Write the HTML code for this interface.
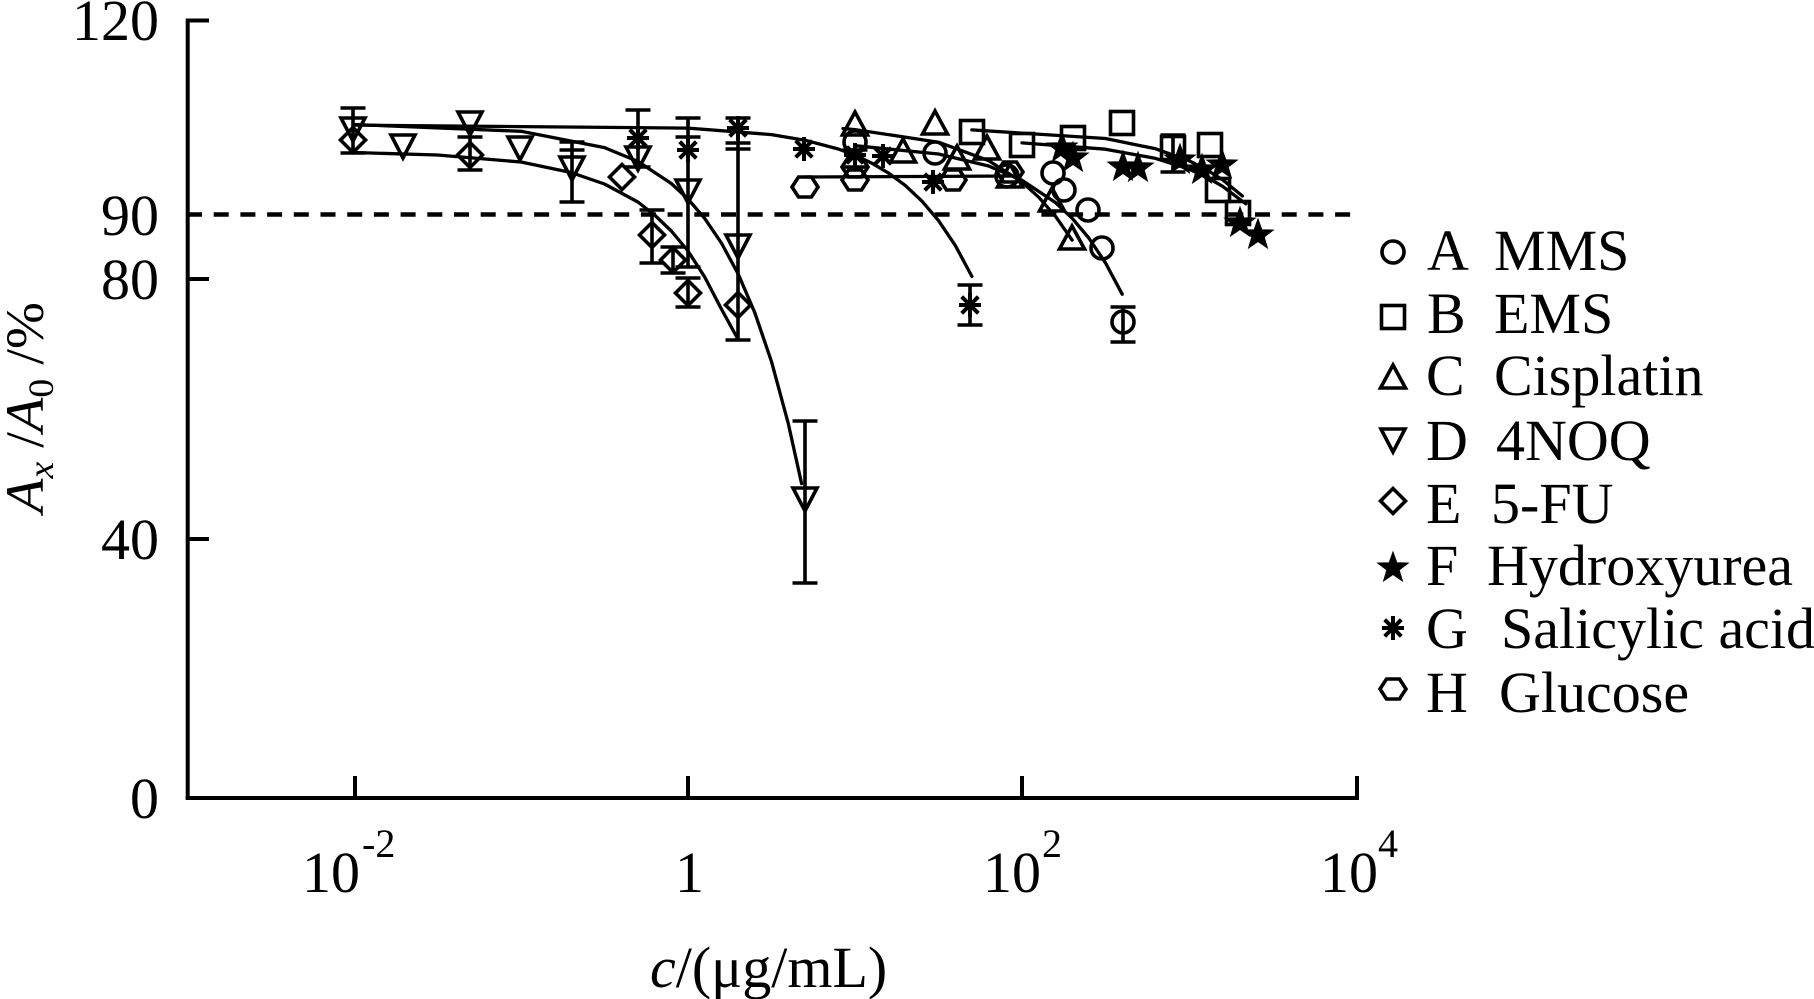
<!DOCTYPE html>
<html><head><meta charset="utf-8"><style>
html,body{margin:0;padding:0;background:#fff;}
svg{display:block;}
text{font-family:"Liberation Serif","Times New Roman",serif;fill:#000;}
</style></head><body>
<svg width="1814" height="999" viewBox="0 0 1814 999" xmlns="http://www.w3.org/2000/svg" font-family="Liberation Serif, Times New Roman, serif">
<defs>
<circle id="mc" cx="0" cy="0" r="11" fill="none" stroke="#000" stroke-width="3.6"/>
<rect id="ms" x="-11.5" y="-11.5" width="23" height="23" fill="none" stroke="#000" stroke-width="3.6"/>
<polygon id="mtu" points="0,-14 12.5,9 -12.5,9" fill="none" stroke="#000" stroke-width="3.6" stroke-linejoin="miter"/>
<polygon id="mtd" points="-12,-10 12,-10 0,13" fill="none" stroke="#000" stroke-width="3.6"/>
<polygon id="md" points="0,-12.5 12.5,0 0,12.5 -12.5,0" fill="none" stroke="#000" stroke-width="3.6"/>
<polygon id="mst" points="0,-16 3.82,-5.26 15.22,-4.94 6.18,2.01 9.4,12.94 0,6.5 -9.4,12.94 -6.18,2.01 -15.22,-4.94 -3.82,-5.26" fill="#000" stroke="#000" stroke-width="1"/>
<g id="ma" stroke="#000" stroke-width="4" stroke-linecap="butt">
<line x1="0" y1="-12" x2="0" y2="12"/><line x1="-11" y1="0" x2="11" y2="0"/>
<line x1="-8.3" y1="-8.3" x2="8.3" y2="8.3"/><line x1="-8.3" y1="8.3" x2="8.3" y2="-8.3"/>
</g>
<polygon id="mh" points="-13,0 -6.5,-10 6.5,-10 13,0 6.5,10 -6.5,10" fill="none" stroke="#000" stroke-width="3.6"/>
</defs>

<!-- axes -->
<g stroke="#000" stroke-width="4" fill="none">
<line x1="187.7" y1="18.5" x2="187.7" y2="800"/>
<line x1="185.7" y1="798" x2="1359" y2="798"/>
<line x1="187" y1="20.5" x2="209" y2="20.5"/>
<line x1="187" y1="279" x2="209" y2="279"/>
<line x1="187" y1="539" x2="209" y2="539"/>
<line x1="355" y1="798" x2="355" y2="776"/>
<line x1="688" y1="798" x2="688" y2="776"/>
<line x1="1022" y1="798" x2="1022" y2="776"/>
<line x1="1357" y1="798" x2="1357" y2="776"/>
</g>
<!-- dashed 90% line -->
<line x1="187" y1="214.5" x2="1352" y2="214.5" stroke="#000" stroke-width="4.5" stroke-dasharray="15 11.7"/>

<!-- y tick labels -->
<g font-size="58" text-anchor="end" font-family="Liberation Serif, serif">
<text x="159" y="40">120</text>
<text x="159" y="235">90</text>
<text x="159" y="299">80</text>
<text x="159" y="559">40</text>
<text x="159" y="818">0</text>
</g>
<!-- x tick labels -->
<g font-size="58" font-family="Liberation Serif, serif">
<text x="302" y="892">10</text>
<text x="675" y="892">1</text>
<text x="983" y="892">10</text>
<text x="1320" y="892">10</text>
</g>
<g font-size="40" font-family="Liberation Serif, serif">
<text x="362" y="857">-2</text>
<text x="1042" y="857">2</text>
<text x="1378" y="857">4</text>
</g>
<!-- x title -->
<text x="650" y="987" font-size="58" font-family="Liberation Serif, serif"><tspan font-style="italic">c</tspan>/(μg/mL)</text>
<!-- y title -->
<text transform="translate(43,513) rotate(-90)" font-size="54" font-family="Liberation Serif, serif" textLength="211" lengthAdjust="spacingAndGlyphs"><tspan font-style="italic">A</tspan><tspan font-style="italic" font-size="36" dy="10">x</tspan><tspan dy="-10"> /</tspan><tspan font-style="italic">A</tspan><tspan font-size="36" dy="10">0</tspan><tspan dy="-10"> /%</tspan></text>

<!-- fit curves -->
<g fill="none" stroke="#000" stroke-width="3.3" stroke-linejoin="round" stroke-linecap="round">
<!-- D 4NOQ -->
<polyline points="354,124.5 521,131.3 604.5,147.6 637.9,161.4 671.3,183.5 688,199 704.7,218.4 721.4,243 738.1,273.8 754.8,312.7 771.5,361.6 788.2,423.2 801.6,483.6"/>
<!-- E 5-FU -->
<polyline points="354,152.5 437.5,155 521,162 571,172.5 604.5,184 637.9,202 654.6,215 671.3,231 688,251 704.7,277 721.4,309 737.3,338"/>
<!-- G Salicylic -->
<polyline points="354,125.1 688,128.1 771.5,134.6 804.9,140.2 838.3,149 855,155.3 871.7,163.1 888.4,173 905.1,185.3 921.8,201 938.5,220.6 955.2,245.3 971.9,276.4"/>
<!-- A MMS -->
<polyline points="855,145.7 938.5,154 988.6,166 1022,180.2 1055.4,202.5 1072.1,218.2 1088.8,238 1105.5,262.9 1122.2,294.2"/>
<!-- C Cisplatin -->
<polyline points="843,128.5 855,129.6 938.5,142.2 988.6,160.6 1022,182.1 1038.7,197.2 1055.4,216.2 1072.1,240.1"/>
<!-- B EMS -->
<polyline points="971.9,129.9 1105.5,138.5 1155.6,148.8 1189,160.7 1205.7,169.2 1222.4,179.6 1242.4,196"/>
<!-- F Hydroxyurea -->
<polyline points="1022,142.9 1105.5,149.2 1155.6,158.4 1189,169.1 1205.7,176.7 1222.4,186.2 1245.8,203.8"/>
<!-- H Glucose -->
<polyline points="805,177 1015,176"/>
</g>

<!-- error bars -->
<g stroke="#000" stroke-width="3.6" fill="none">
<path d="M353,108V153 M340.5,108H365.5 M340.5,153H365.5"/>
<path d="M470,137V170 M457.5,137H482.5 M457.5,170H482.5"/>
<path d="M572,142V202 M559.5,142H584.5 M559.5,150H584.5 M559.5,202H584.5"/>
<path d="M638,110V167 M625.5,110H650.5 M625.5,167H650.5"/>
<path d="M652,210V263 M639.5,210H664.5 M639.5,263H664.5"/>
<path d="M673,247V273 M660.5,247H685.5 M660.5,273H685.5"/>
<path d="M688,118V267 M675.5,118H700.5 M675.5,137H700.5 M675.5,267H700.5"/>
<path d="M688,278V307 M675.5,278H700.5 M675.5,307H700.5"/>
<path d="M738,118V340 M725.5,118H750.5 M725.5,143H750.5 M725.5,149H750.5 M725.5,340H750.5"/>
<path d="M805,421V583 M792.5,421H817.5 M792.5,583H817.5"/>
<path d="M970,285V325 M957.5,285H982.5 M957.5,325H982.5"/>
<path d="M1123,307V342 M1110.5,307H1135.5 M1110.5,342H1135.5"/>
<path d="M1173,135V172 M1160.5,135H1185.5 M1160.5,172H1185.5"/>
<path d="M855,150V167 M842.5,150H867.5 M842.5,167H867.5"/>
</g>

<!-- markers: D 4NOQ -->
<use href="#mtd" x="353" y="128"/>
<use href="#mtd" x="403" y="145"/>
<use href="#mtd" x="470" y="122"/>
<use href="#mtd" x="520" y="147"/>
<use href="#mtd" x="572" y="167"/>
<use href="#mtd" x="638" y="157"/>
<use href="#mtd" x="688" y="190"/>
<use href="#mtd" x="738" y="245"/>
<use href="#mtd" x="805" y="498"/>
<!-- E 5-FU -->
<use href="#md" x="353" y="140"/>
<use href="#md" x="470" y="155"/>
<use href="#md" x="622" y="177"/>
<use href="#md" x="652" y="235"/>
<use href="#md" x="673" y="260"/>
<use href="#md" x="688" y="293"/>
<use href="#md" x="738" y="305"/>
<!-- G Salicylic -->
<use href="#ma" x="638" y="138"/>
<use href="#ma" x="688" y="150"/>
<use href="#ma" x="738" y="128"/>
<use href="#ma" x="804" y="149"/>
<use href="#ma" x="855" y="155"/>
<use href="#ma" x="883" y="156"/>
<use href="#ma" x="933" y="182"/>
<use href="#ma" x="970" y="305"/>
<!-- H Glucose -->
<use href="#mh" x="805" y="187"/>
<use href="#mh" x="855" y="180"/>
<use href="#mh" x="855" y="167"/>
<use href="#mh" x="953" y="180"/>
<use href="#mh" x="1010" y="172"/>
<!-- C Cisplatin -->
<use href="#mtu" x="855" y="126"/>
<use href="#mtu" x="903" y="153"/>
<use href="#mtu" x="935" y="125"/>
<use href="#mtu" x="957" y="160"/>
<use href="#mtu" x="987" y="150"/>
<use href="#mtu" x="1010" y="178"/>
<use href="#mtu" x="1052" y="202"/>
<use href="#mtu" x="1072" y="240"/>
<!-- A MMS -->
<use href="#mc" x="855" y="142"/>
<use href="#mc" x="935" y="153"/>
<use href="#mc" x="1007" y="176"/>
<use href="#mc" x="1053" y="173"/>
<use href="#mc" x="1064" y="190"/>
<use href="#mc" x="1088" y="210"/>
<use href="#mc" x="1102" y="248"/>
<use href="#mc" x="1123" y="322"/>
<!-- B EMS -->
<use href="#ms" x="972" y="132"/>
<use href="#ms" x="1022" y="145"/>
<use href="#ms" x="1073" y="138"/>
<use href="#ms" x="1122" y="123"/>
<use href="#ms" x="1173" y="148"/>
<use href="#ms" x="1210" y="145"/>
<use href="#ms" x="1218" y="190"/>
<use href="#ms" x="1238" y="213"/>
<!-- F Hydroxyurea -->
<use href="#mst" x="1062" y="148"/>
<use href="#mst" x="1073" y="158"/>
<use href="#mst" x="1123" y="167"/>
<use href="#mst" x="1138" y="168"/>
<use href="#mst" x="1180" y="160"/>
<use href="#mst" x="1202" y="170"/>
<use href="#mst" x="1222" y="165"/>
<use href="#mst" x="1240" y="223"/>
<use href="#mst" x="1258" y="235"/>

<!-- legend -->
<use href="#mc" x="1393" y="252"/>
<use href="#ms" x="1393" y="317"/>
<use href="#mtu" x="1393" y="379"/>
<use href="#mtd" x="1393" y="439"/>
<use href="#md" x="1393" y="501"/>
<use href="#mst" x="1393" y="568"/>
<use href="#ma" x="1393" y="628"/>
<use href="#mh" x="1393" y="689"/>
<g font-size="58" font-family="Liberation Serif, serif">
<text x="1427" y="270">A</text><text x="1494" y="270">MMS</text>
<text x="1427" y="333">B</text><text x="1494" y="333">EMS</text>
<text x="1426" y="395">C</text><text x="1494" y="395">Cisplatin</text>
<text x="1426" y="460">D</text><text x="1496" y="460">4NOQ</text>
<text x="1426" y="523">E</text><text x="1491" y="523">5-FU</text>
<text x="1426" y="585">F</text><text x="1487" y="585">Hydroxyurea</text>
<text x="1426" y="648">G</text><text x="1501" y="648">Salicylic acid</text>
<text x="1426" y="712">H</text><text x="1499" y="712">Glucose</text>
</g>
</svg>
</body></html>
